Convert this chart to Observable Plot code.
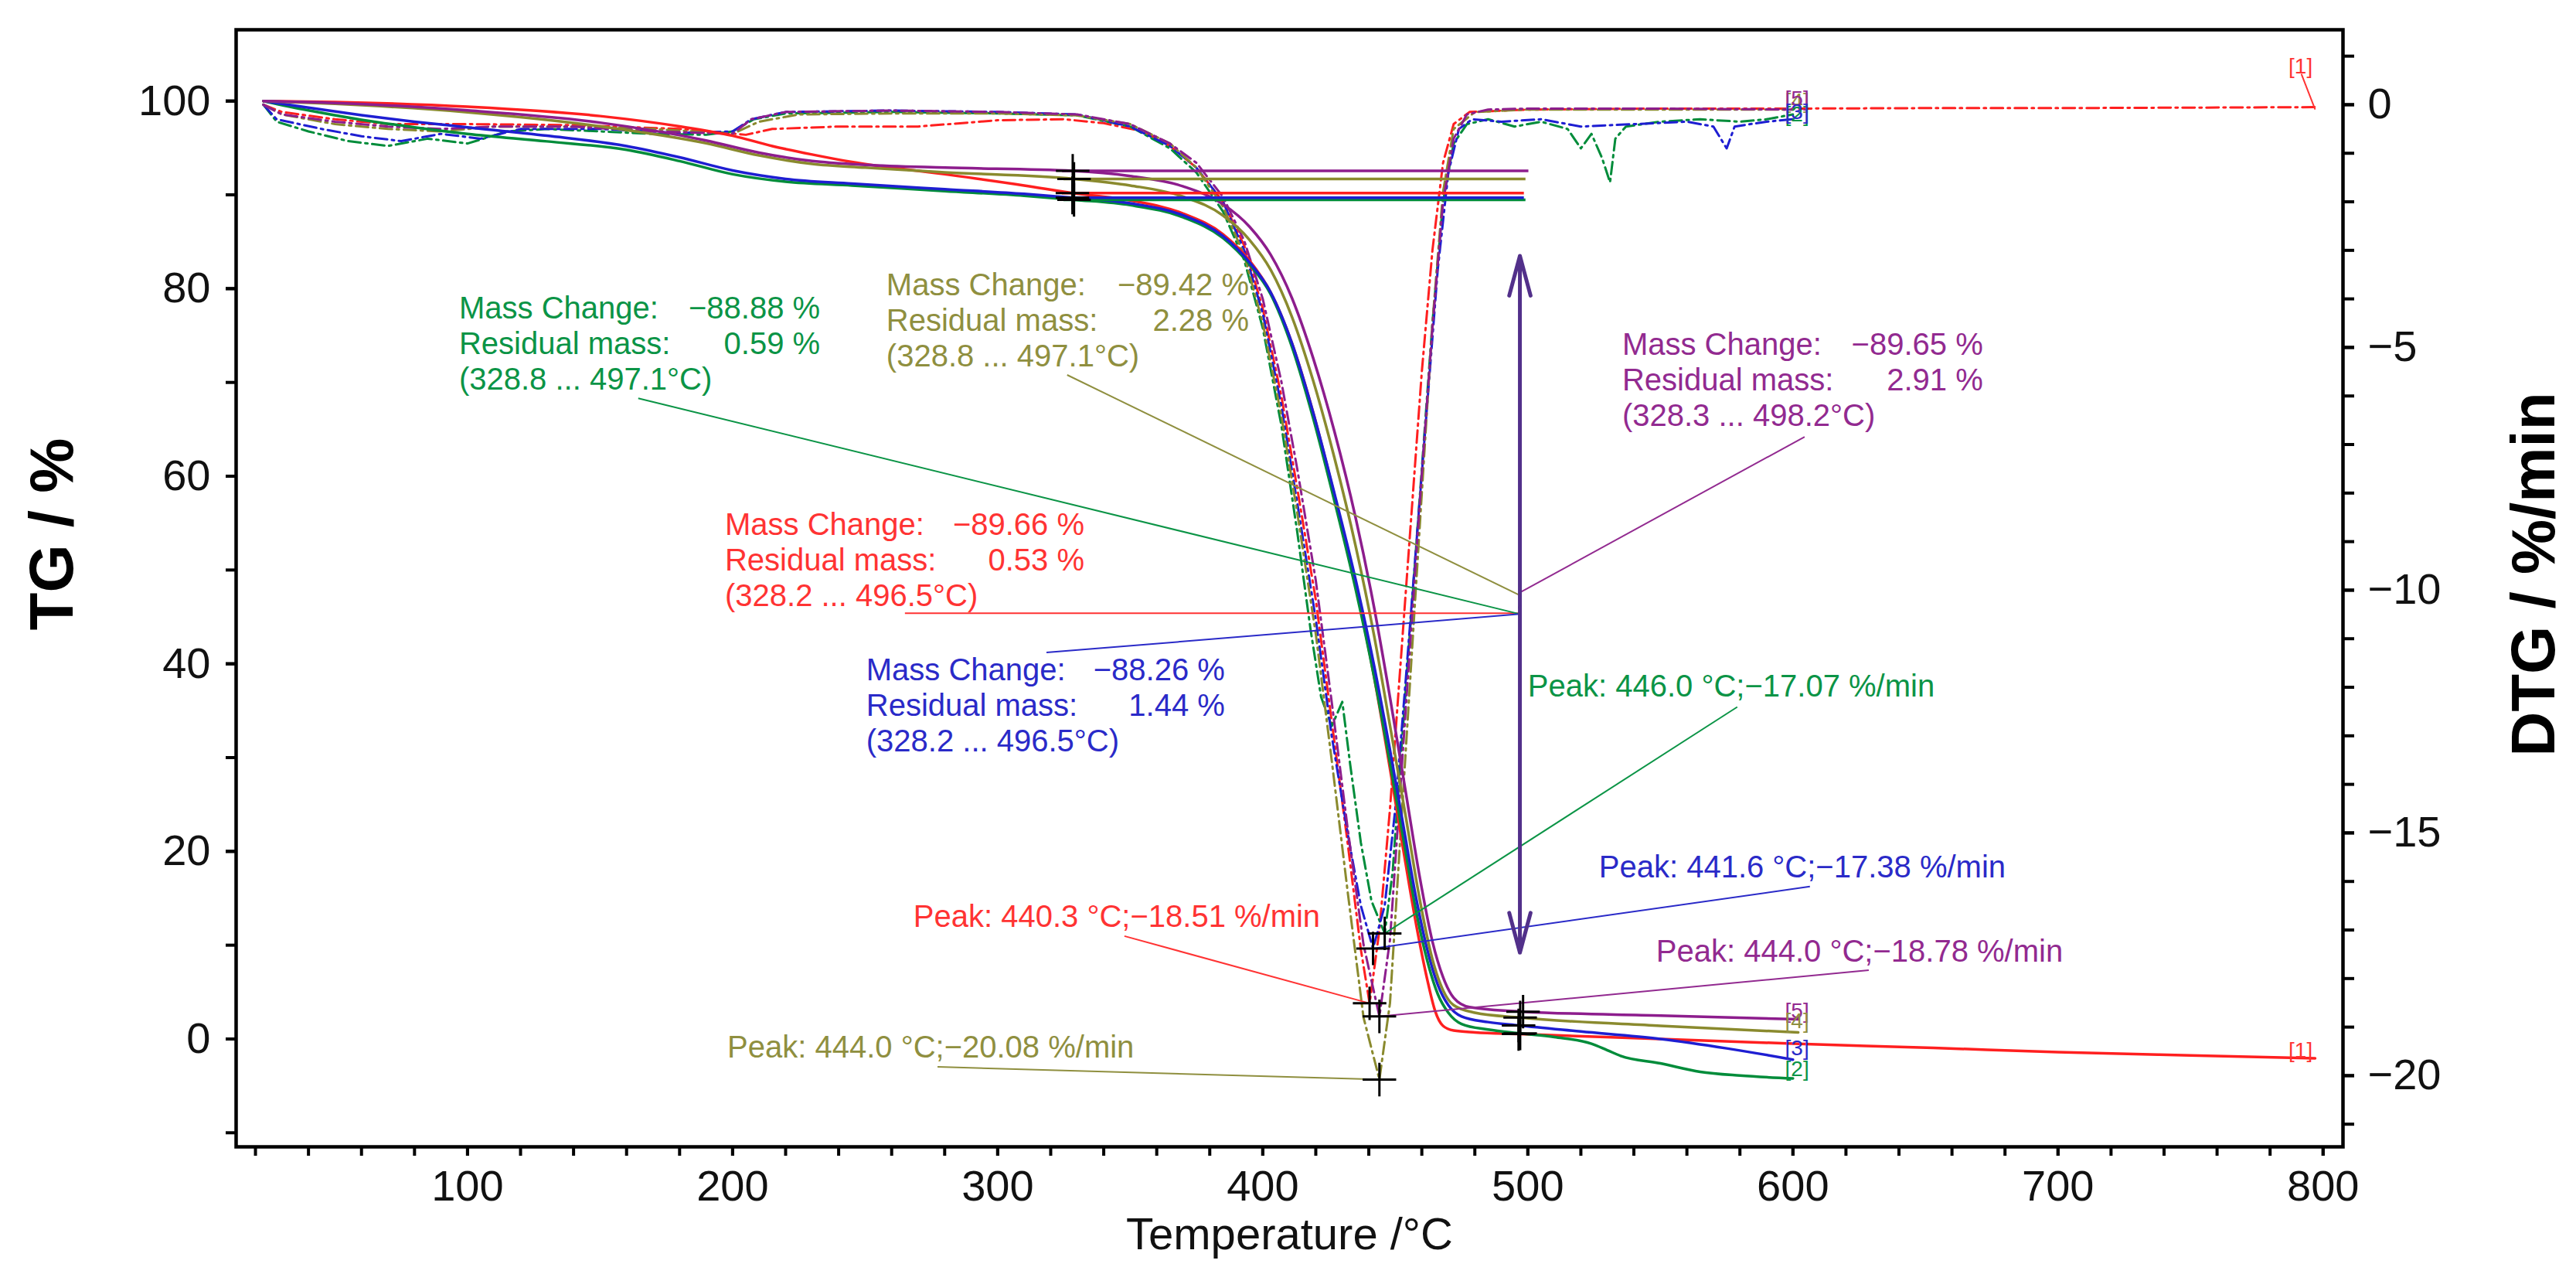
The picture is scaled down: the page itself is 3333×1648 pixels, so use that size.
<!DOCTYPE html>
<html>
<head>
<meta charset="utf-8">
<script src="https://cdn.jsdelivr.net/npm/d3@7"></script>
<script src="https://cdn.jsdelivr.net/npm/@observablehq/plot@0.6"></script>
<style>body{margin:0;background:#fff}</style>
</head>
<body>
<div id="chart"></div>
<script>
// series 1..5 : red, green, blue, olive, purple
const ids = [1, 2, 3, 4, 5];

// TG curves [temperature °C, mass %]
const tg1 = [[23,100],[50,99.9],[100,99.4],[150,98.4],[180,97.3],[200,96.3],[215,95.2],[230,94.3],[245,93.5],[280,92.2],[310,91.0],[328.2,90.19],[350,89.4],[370,88.0],[385,85.8],[395,83.0],[403,79.6],[411,74.2],[419,66.8],[427,58.0],[435,48.4],[442,38.6],[448,28.8],[453,20.2],[458,12.0],[462,6.4],[465,3.0],[468,1.4],[472,0.9],[480,0.7],[496.5,0.53],[550,0.0],[600,-0.5],[653,-0.95],[700,-1.4],[750,-1.75],[797,-2.06]];
const tg2 = [[23,100],[40,99.0],[60,98.0],[80,97.2],[100,96.5],[130,95.7],[160,94.8],[180,93.6],[200,92.2],[220,91.4],[245,91.0],[280,90.4],[310,89.9],[328.8,89.47],[350,88.9],[370,87.6],[385,85.4],[395,82.6],[403,79.4],[411,73.8],[419,66.2],[427,57.4],[435,48.0],[442,38.6],[448,29.4],[453,21.4],[458,13.4],[462,8.4],[466,4.8],[470,2.8],[475,1.6],[485,1.0],[497.1,0.59],[510,0.2],[524,-0.5],[530,-1.2],[535,-1.8],[550,-2.6],[565,-3.5],[580,-3.9],[600,-4.2]];
const tg3 = [[23,100],[40,99.3],[60,98.5],[80,97.8],[100,97.2],[130,96.3],[160,95.2],[180,94.0],[200,92.6],[220,91.7],[245,91.2],[280,90.6],[310,90.1],[328.2,89.7],[350,89.1],[370,87.8],[385,85.6],[395,82.8],[403,79.6],[411,74.2],[419,66.8],[427,58.2],[435,49.0],[442,39.8],[448,30.8],[453,22.8],[458,14.8],[462,9.6],[466,5.8],[470,3.6],[475,2.4],[485,1.8],[496.5,1.44],[520,0.8],[550,0.0],[575,-1.0],[600,-2.2]];
const tg4 = [[23,100],[50,99.7],[100,98.8],[150,97.3],[190,95.5],[210,94.2],[230,93.3],[250,92.9],[280,92.4],[328.8,91.7],[350,91.0],[370,89.8],[385,87.8],[395,85.2],[403,82.0],[411,77.0],[419,70.2],[427,62.0],[435,52.6],[442,43.0],[448,33.4],[454,23.6],[459,15.2],[464,8.5],[468,5.2],[472,3.6],[480,2.8],[497.1,2.28],[550,1.4],[602,0.7]];
const tg5 = [[23,100],[50,99.8],[100,99.0],[150,97.7],[190,95.8],[210,94.5],[230,93.6],[250,93.2],[280,92.9],[328.3,92.56],[350,92.0],[370,90.9],[385,89.0],[395,86.6],[403,83.6],[411,79.0],[419,72.6],[427,64.8],[435,55.6],[442,46.0],[448,36.4],[454,26.2],[459,17.6],[464,10.4],[468,6.6],[472,4.4],[478,3.4],[498.2,2.91],[550,2.5],[602,2.1]];

// DTG curves [temperature °C, %/min]
const dtg1 = [[23,0],[30,-0.15],[50,-0.3],[70,-0.4],[100,-0.4],[140,-0.42],[180,-0.5],[205,-0.62],[215,-0.5],[240,-0.45],[270,-0.45],[300,-0.32],[325,-0.3],[340,-0.38],[355,-0.55],[365,-0.85],[375,-1.3],[385,-2.0],[393,-2.9],[400,-4.2],[407,-6.0],[413,-7.9],[420,-10.2],[426,-12.7],[432,-15.2],[437,-17.4],[440.3,-18.51],[444,-17.0],[448,-14.5],[452,-11.5],[456,-8.5],[460,-5.5],[464,-3.0],[468,-1.2],[472,-0.4],[478,-0.15],[500,-0.1],[550,-0.08],[600,-0.08],[650,-0.07],[700,-0.07],[750,-0.06],[797,-0.05]];
const dtg2 = [[23,0],[28,-0.35],[40,-0.55],[55,-0.75],[70,-0.85],[85,-0.7],[100,-0.8],[115,-0.55],[130,-0.5],[150,-0.55],[170,-0.6],[190,-0.62],[200,-0.55],[208,-0.3],[220,-0.18],[260,-0.15],[300,-0.18],[330,-0.22],[350,-0.45],[365,-0.9],[375,-1.4],[385,-2.2],[393,-3.2],[400,-4.6],[407,-6.6],[413,-8.8],[418,-10.8],[422,-12.2],[426,-12.8],[430,-12.3],[433,-13.6],[437,-15.2],[441,-16.4],[446,-17.07],[449,-15.8],[452,-13.5],[456,-10.5],[460,-7.5],[464,-4.5],[468,-2.0],[472,-0.8],[477,-0.4],[485,-0.3],[495,-0.45],[505,-0.35],[515,-0.5],[520,-0.9],[524,-0.6],[528,-1.1],[531,-1.6],[533,-0.7],[537,-0.45],[550,-0.35],[565,-0.3],[580,-0.35],[590,-0.3],[600,-0.2]];
const dtg3 = [[23,0],[28,-0.3],[45,-0.5],[60,-0.65],[75,-0.75],[90,-0.6],[105,-0.7],[120,-0.5],[150,-0.5],[180,-0.58],[200,-0.55],[207,-0.3],[220,-0.15],[260,-0.12],[300,-0.15],[330,-0.2],[350,-0.45],[365,-0.85],[375,-1.3],[385,-2.0],[393,-3.0],[400,-4.3],[407,-6.2],[413,-8.2],[420,-10.6],[426,-13.0],[432,-15.0],[437,-16.5],[441.6,-17.38],[446,-16.5],[450,-14.5],[454,-11.8],[458,-9.0],[462,-6.2],[466,-3.4],[470,-1.4],[474,-0.5],[479,-0.3],[490,-0.35],[505,-0.3],[520,-0.45],[540,-0.4],[560,-0.35],[570,-0.45],[575,-0.9],[578,-0.45],[590,-0.35],[600,-0.3]];
const dtg4 = [[23,0],[30,-0.2],[50,-0.4],[70,-0.5],[90,-0.55],[110,-0.45],[140,-0.45],[170,-0.5],[200,-0.6],[210,-0.35],[225,-0.2],[260,-0.18],[300,-0.18],[330,-0.22],[350,-0.4],[365,-0.8],[375,-1.3],[385,-2.1],[393,-3.1],[400,-4.5],[407,-6.4],[413,-8.4],[420,-10.9],[426,-13.5],[432,-16.2],[438,-18.8],[444,-20.08],[448,-18.5],[452,-15.0],[456,-11.5],[460,-8.0],[464,-4.5],[468,-1.8],[472,-0.5],[480,-0.15],[500,-0.1],[550,-0.1],[600,-0.1]];
const dtg5 = [[23,0],[30,-0.2],[50,-0.35],[70,-0.45],[90,-0.5],[110,-0.45],[140,-0.45],[170,-0.55],[200,-0.6],[207,-0.3],[220,-0.15],[260,-0.12],[300,-0.15],[330,-0.2],[350,-0.4],[365,-0.8],[375,-1.2],[385,-1.9],[393,-2.8],[400,-4.0],[407,-5.7],[413,-7.5],[420,-9.8],[426,-12.3],[432,-14.9],[438,-17.3],[444,-18.78],[448,-17.2],[452,-14.0],[456,-10.8],[460,-7.6],[464,-4.6],[468,-2.0],[472,-0.7],[477,-0.2],[485,-0.1],[500,-0.08],[550,-0.08],[600,-0.1]];

// evaluation results
const massChange = [-89.66, -88.88, -88.26, -89.42, -89.65];
const residualMass = [0.53, 0.59, 1.44, 2.28, 2.91];
const stepStart = [328.2, 328.8, 328.2, 328.8, 328.3];
const stepEnd = [496.5, 497.1, 496.5, 497.1, 498.2];
const peakTemp = [440.3, 446.0, 441.6, 444.0, 444.0];
const peakRate = [-18.51, -17.07, -17.38, -20.08, -18.78];

// axis ticks
const tempTicks = [100, 200, 300, 400, 500, 600, 700, 800];
const tgTicks = [0, 20, 40, 60, 80, 100];
const dtgTicks = [-20, -15, -10, -5, 0];

// DTG drawn on the TG scale (right axis)
const toTG = d => 99.61 + 5.176 * d;
const minus = v => v < 0 ? "\u2212" + Math.abs(v) : String(v);

// colours
const lineColor = {1: "#ff1f1f", 2: "#008c3a", 3: "#1e1ed2", 4: "#8a8a2e", 5: "#8d1d8d"};
const textColor = {1: "#ff3333", 2: "#0b9446", 3: "#2a2ac8", 4: "#8f8f3f", 5: "#922a90"};

// annotation placement (data units)
const massLeft = [197.1, 96.8, 250.4, 258.0, 535.6];
const massRight = [332.7, 233.0, 385.7, 394.8, 671.7];
const massY = [54.76, 77.86, 39.26, 80.33, 73.98];
const massLeadFrom = [[265, 45.4], [164.4, 68.3], [318.4, 41.2], [326.2, 70.8], [604.4, 64.2]];
const massLeadTo = [[497, 45.4], [497, 45.3], [497, 45.3], [497, 47.3], [497, 47.6]];
const peakX = [268.2, 500, 526.8, 198, 548.4];
const peakY = [13.03, 37.53, 18.31, -0.91, 9.32];
const peakLeadFrom = [[347.8, 10.97], [579, 35.4], [606.4, 16.25], [277.3, -2.97], [628.6, 7.34]];

const rows = (arr, id, f = v => v) => arr.map(([T, v]) => ({id, T, v: f(v), c: lineColor[id]}));
const tgRows = [tg1, tg2, tg3, tg4, tg5].flatMap((s, i) => rows(s, ids[i]));
const dtgRows = [dtg1, dtg2, dtg3, dtg4, dtg5].flatMap((s, i) => rows(s, ids[i], toTG));

const startTG = residualMass.map((r, i) => r - massChange[i]);
const steps = ids.map((id, i) => ({x1: stepStart[i] - 4, x2: stepEnd[i] + 2, y: startTG[i], c: lineColor[id]}));
const crosses = ids.flatMap((id, i) => [
  {T: stepStart[i], v: startTG[i]},
  {T: stepEnd[i], v: residualMass[i]},
  {T: peakTemp[i], v: toTG(peakRate[i])}
]);

const leaders = ids.flatMap((id, i) => [
  {x1: massLeadFrom[i][0], y1: massLeadFrom[i][1], x2: massLeadTo[i][0], y2: massLeadTo[i][1], c: textColor[id]},
  {x1: peakLeadFrom[i][0], y1: peakLeadFrom[i][1], x2: peakTemp[i], y2: toTG(peakRate[i]), c: textColor[id]}
]);
leaders.push({x1: 791.8, y1: 102.9, x2: 797, y2: toTG(-0.1), c: textColor[1]});

const lh = 3.79;
const textStart = [], textEnd = [];
ids.forEach((id, i) => {
  const c = textColor[id];
  textStart.push({x: massLeft[i], y: massY[i], t: "Mass Change:", c});
  textEnd.push({x: massRight[i], y: massY[i], t: "\u2212" + Math.abs(massChange[i]).toFixed(2) + " %", c});
  textStart.push({x: massLeft[i], y: massY[i] - lh, t: "Residual mass:", c});
  textEnd.push({x: massRight[i], y: massY[i] - lh, t: residualMass[i].toFixed(2) + " %", c});
  textStart.push({x: massLeft[i], y: massY[i] - 2 * lh, t: `(${stepStart[i].toFixed(1)} ... ${stepEnd[i].toFixed(1)}°C)`, c});
  textStart.push({x: peakX[i], y: peakY[i], t: `Peak: ${peakTemp[i].toFixed(1)} °C;\u2212${Math.abs(peakRate[i]).toFixed(2)} %/min`, c});
});

const tags = [
  {x: 791.5, y: 103.67, t: "[1]", c: textColor[1], a: "middle"},
  {x: 597, y: 100.0, t: "[4]", c: textColor[4], a: "start"},
  {x: 597, y: 100.2, t: "[5]", c: textColor[5], a: "start"},
  {x: 597, y: 98.6, t: "[2]", c: textColor[2], a: "start"},
  {x: 597, y: 98.8, t: "[3]", c: textColor[3], a: "start"},
  {x: 597, y: 2.97, t: "[5]", c: textColor[5], a: "start"},
  {x: 597, y: 1.9, t: "[4]", c: textColor[4], a: "start"},
  {x: 597, y: -1.0, t: "[3]", c: textColor[3], a: "start"},
  {x: 597, y: -3.2, t: "[2]", c: textColor[2], a: "start"},
  {x: 791.5, y: -1.24, t: "[1]", c: textColor[1], a: "middle"}
];

const arrows = [{x: 497, y1: 46, y2: 83.5}, {x: 497, y1: 46, y2: 9.2}];

const chart = Plot.plot({
  width: 3333,
  height: 1648,
  marginLeft: 305,
  marginRight: 302,
  marginTop: 38,
  marginBottom: 165,
  x: {domain: [12.7, 807.5]},
  y: {domain: [-11.5, 107.6]},
  color: {type: "identity"},
  style: {background: "white", fontFamily: "'Liberation Sans', Arial, sans-serif", fontSize: "56px", overflow: "visible"},
  marks: [
    // axes
    Plot.axisX(d3.range(20, 801, 20), {anchor: "bottom", tickSize: 12, strokeWidth: 4, tickFormat: () => "", label: null}),
    Plot.axisX(tempTicks, {anchor: "bottom", tickSize: 12, tickPadding: 18, strokeWidth: 4, label: null, fill: "#111"}),
    Plot.axisY(d3.range(-10, 101, 10), {anchor: "left", tickSize: 13, strokeWidth: 4, tickFormat: () => "", label: null}),
    Plot.axisY(tgTicks, {anchor: "left", tickSize: 13, tickPadding: 20, strokeWidth: 4, label: null, fill: "#111"}),
    Plot.axisY(d3.range(-21, 2).map(toTG), {anchor: "right", tickSize: 14, strokeWidth: 4, tickFormat: () => "", label: null}),
    Plot.axisY(dtgTicks.map(toTG), {anchor: "right", tickSize: 14, tickPadding: 18, strokeWidth: 4, label: null, fill: "#111",
      tickFormat: v => minus(Math.round((v - 99.61) / 5.176))}),
    Plot.frame({stroke: "black", strokeWidth: 4.5}),

    // curves
    Plot.line(dtgRows, {x: "T", y: "v", z: "id", stroke: "c", strokeWidth: 3, strokeDasharray: "16,6,3,6"}),
    Plot.line(tgRows, {x: "T", y: "v", z: "id", stroke: "c", strokeWidth: 3.5, curve: "monotone-x"}),

    // evaluation marks
    Plot.link(steps, {x1: "x1", x2: "x2", y1: "y", y2: "y", stroke: "c", strokeWidth: 3.5}),
    Plot.link(leaders, {x1: "x1", y1: "y1", x2: "x2", y2: "y2", stroke: "c", strokeWidth: 2}),
    Plot.arrow(arrows, {x1: "x", x2: "x", y1: "y1", y2: "y2", stroke: "#52308a", strokeWidth: 5, headLength: 16, headAngle: 30}),
    Plot.dot(crosses, {x: "T", y: "v", symbol: "plus", r: 14, stroke: "black", strokeWidth: 3}),

    // annotations
    Plot.text(textStart, {x: "x", y: "y", text: "t", fill: "c", textAnchor: "start", fontSize: 40}),
    Plot.text(textEnd, {x: "x", y: "y", text: "t", fill: "c", textAnchor: "end", fontSize: 40}),
    Plot.text(tags.filter(d => d.a === "start"), {x: "x", y: "y", text: "t", fill: "c", textAnchor: "start", fontSize: 28}),
    Plot.text(tags.filter(d => d.a === "middle"), {x: "x", y: "y", text: "t", fill: "c", textAnchor: "middle", fontSize: 28}),

    // axis titles
    Plot.text(["TG / %"], {text: d => d, frameAnchor: "left", textAnchor: "middle", lineAnchor: "middle", dx: -237, dy: -70, rotate: -90, fontSize: 80, fontWeight: "bold", fill: "black"}),
    Plot.text(["DTG / %/min"], {text: d => d, frameAnchor: "right", textAnchor: "middle", lineAnchor: "middle", dx: 248, dy: -18, rotate: -90, fontSize: 80, fontWeight: "bold", fill: "black"}),
    Plot.text(["Temperature /°C"], {text: d => d, frameAnchor: "bottom", textAnchor: "middle", lineAnchor: "middle", dy: 114, fontSize: 58, fill: "#111"})
  ]
});

d3.select("#chart").append(() => chart);
</script>
</body>
</html>
